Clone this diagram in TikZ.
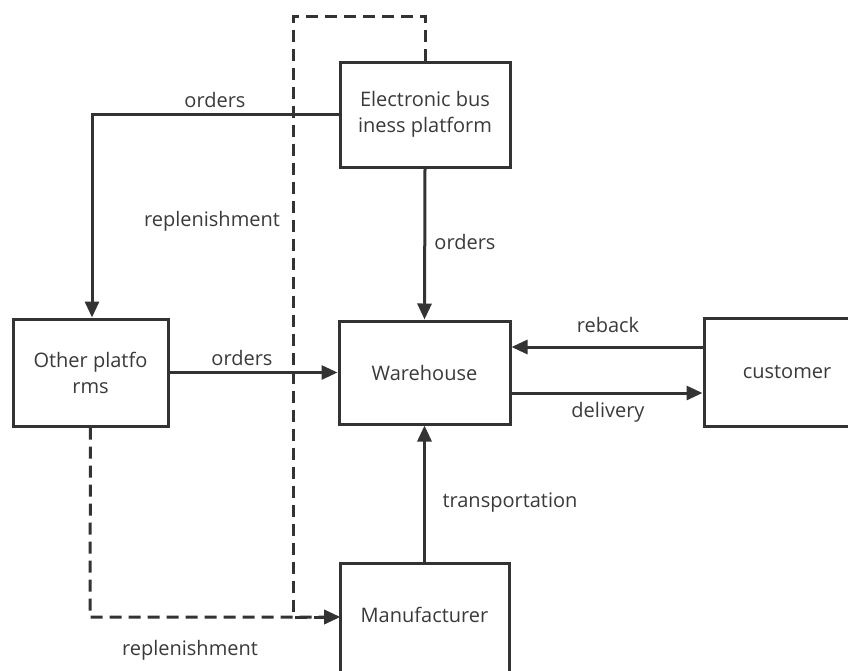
\documentclass[tikz,border=0pt]{standalone}
\usepackage{fontspec}
\setmainfont{Open Sans}
\usetikzlibrary{arrows.meta}
\definecolor{ln}{HTML}{333333}
\definecolor{tx}{HTML}{3A3A3A}
\tikzset{
  box/.style={draw=ln, line width=3pt, fill=white, inner sep=0pt, align=center, text=tx, font=\fontsize{20}{26}\selectfont},
  conn/.style={draw=ln, line width=3pt, -{Triangle[length=16pt,width=14pt]}},
  dconn/.style={conn, dash pattern=on 12pt off 7pt},
  lbl/.style={text=tx, font=\fontsize{20}{24}\selectfont, inner sep=0pt}
}
\begin{document}
\begin{tikzpicture}[x=1pt,y=-1pt]
\useasboundingbox (0,0) rectangle (848,670);
\clip (0,0) rectangle (848,670);
% boxes
\node[box, minimum width=170pt, minimum height=105pt] (ep) at (425,114.5) {Electronic bus\\iness platform};
\node[box, minimum width=155pt, minimum height=107pt] (op) at (90.5,372.5) {Other platfo\\rms};
\node[box, minimum width=171pt, minimum height=103pt] (wh) at (424.5,372.5) {Warehouse};
\node[box, minimum width=166pt, minimum height=108pt, text width=148pt] (cu) at (787,372) {customer};
\node[box, minimum width=169pt, minimum height=112pt] (mf) at (424.5,619) {};
\node[text=tx, font=\fontsize{20}{26}\selectfont] (mft) at (424.5,615) {Manufacturer};
% coordinates
\coordinate (c1) at (92,114);
\coordinate (c2) at (425,16);
\coordinate (c3) at (293,16);
\coordinate (c4) at (293,617);
\coordinate (c5) at (90,617);
\coordinate (mfw) at (340,617);
% dashed replenishment
\draw[dconn] (ep.north) -- (c2) -- (c3) -- (c4) -- (mfw);
\draw[dconn] (op.south) -- (c5) -- (mfw);
% solid connectors
\draw[conn] (ep.west |- c1) -- (c1) -- (c1 |- op.north);
\draw[conn] (ep.south) -- (wh.north);
\draw[conn] (op.east) -- (wh.west);
\draw[conn] (cu.west |- 0,347) -- (wh.east |- 0,347);
\draw[conn] (wh.east |- 0,393) -- (cu.west |- 0,393);
\draw[conn] (mf.north) -- (wh.south);
% labels
\node[lbl] (l1) at (215,100) {orders};
\node[lbl] (l2) at (212,221) {replenishment};
\node[lbl] (l3) at (465,242) {orders};
\node[lbl] (l4) at (242,358) {orders};
\node[lbl] (l5) at (608,325) {reback};
\node[lbl] (l6) at (608,412) {delivery};
\node[lbl] (l7) at (510,503) {transportation};
\node[lbl] (l8) at (190,650) {replenishment};
\end{tikzpicture}
\end{document}
